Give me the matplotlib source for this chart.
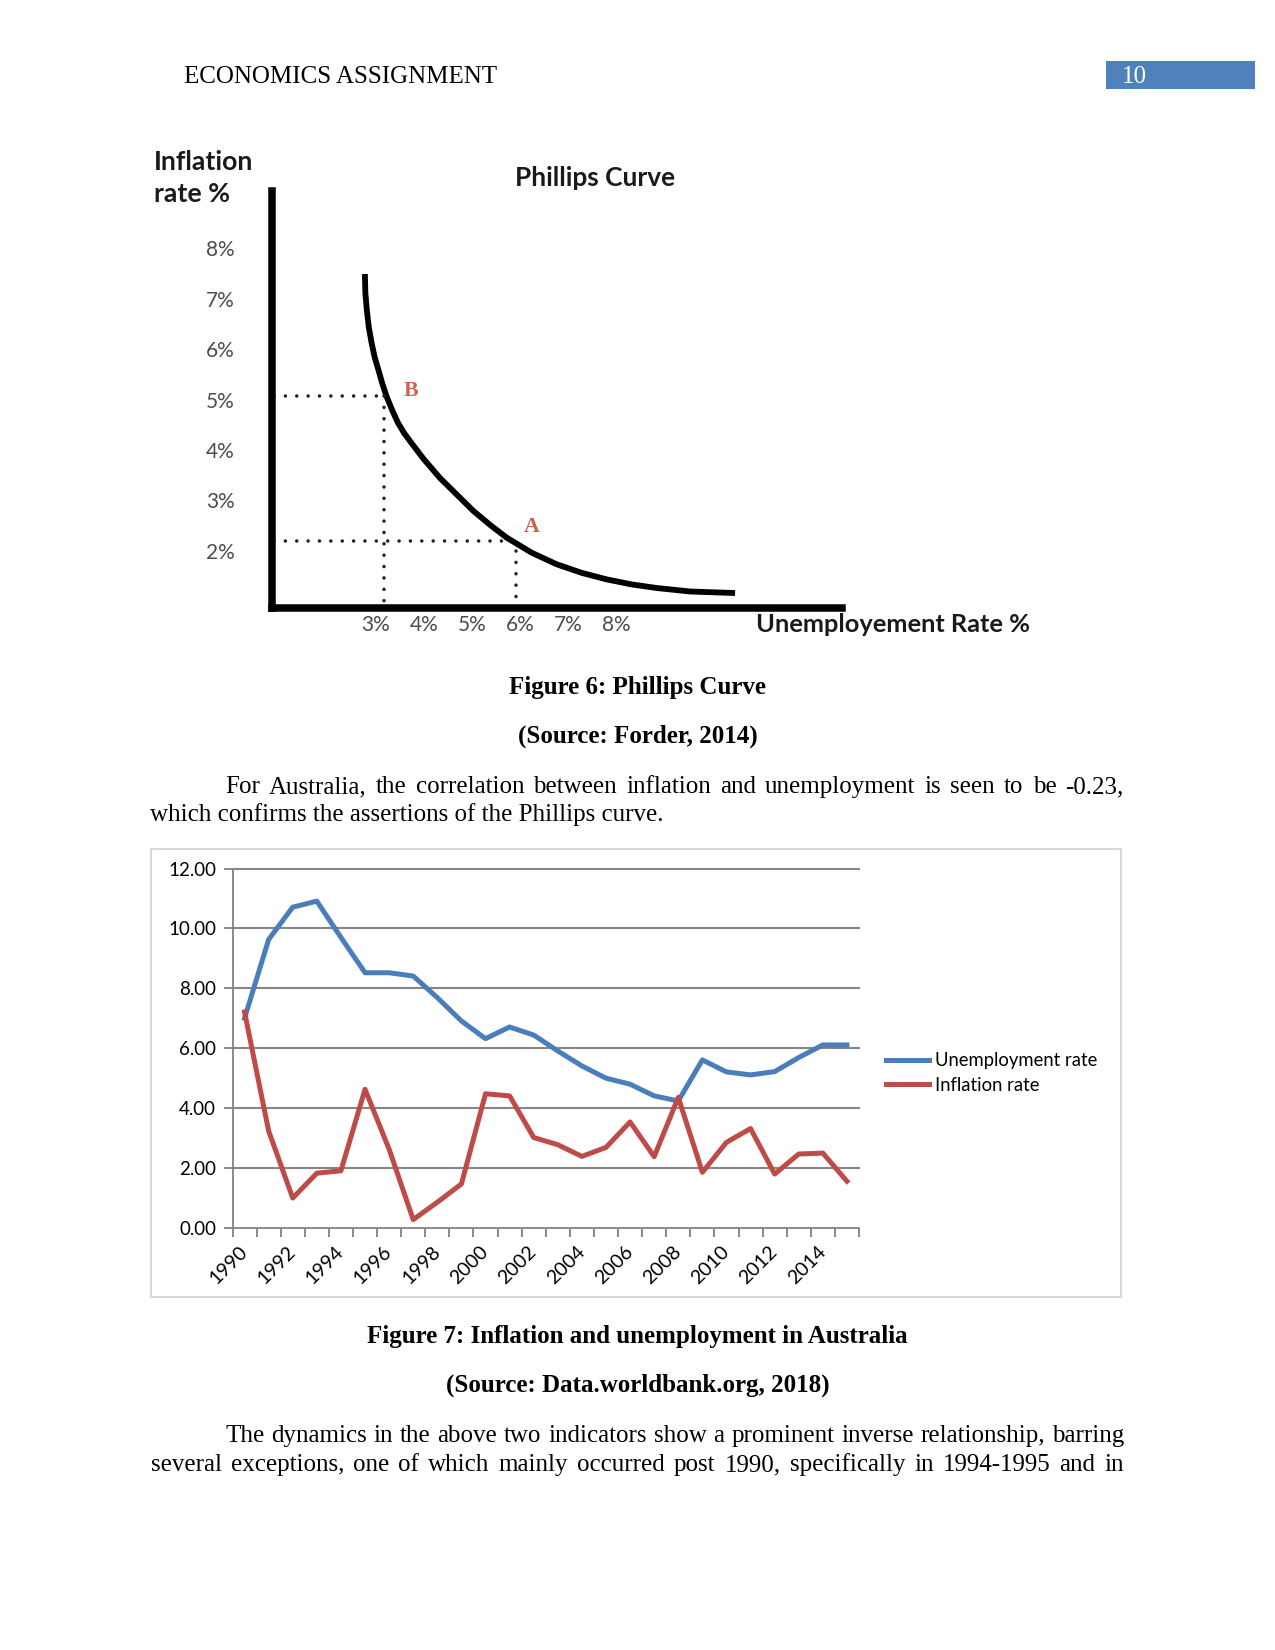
import matplotlib
matplotlib.use("Agg")
import matplotlib.pyplot as plt
from matplotlib.patches import Rectangle
import numpy as np

W, H = 1275, 1650
DPI = 150

# --- Phillips curve (figure 6) ---
curve_unemp = [2.78, 2.79, 2.82, 2.86, 2.92, 2.98, 3.06, 3.14, 3.23, 3.35, 3.47, 3.59, 3.72,
               3.99, 4.34, 4.69, 5.03, 5.38, 5.72, 6.24, 6.76, 7.28, 7.80, 8.32, 8.83, 9.53,
               10.46]
curve_infl = [7.49, 7.11, 6.78, 6.44, 6.12, 5.85, 5.59, 5.32, 5.06, 4.78, 4.53, 4.34, 4.17,
              3.83, 3.44, 3.11, 2.79, 2.51, 2.26, 1.96, 1.73, 1.56, 1.43, 1.33, 1.26, 1.19,
              1.16]
point_b = (3.18, 5.07)
point_a = (5.91, 2.20)
pc_yticks = [8, 7, 6, 5, 4, 3, 2]
pc_xticks = [3, 4, 5, 6, 7, 8]

# --- Australia inflation / unemployment (figure 7) ---
years = list(range(1990, 2016))
unemployment = [7.0, 9.63, 10.71, 10.91, 9.7, 8.52, 8.52, 8.41, 7.69, 6.91, 6.32, 6.71, 6.44,
                5.91, 5.41, 5.0, 4.8, 4.41, 4.24, 5.61, 5.21, 5.11, 5.22, 5.69, 6.11, 6.11]
inflation = [7.21, 3.24, 1.0, 1.83, 1.91, 4.63, 2.63, 0.28, 0.86, 1.47, 4.48, 4.41, 3.02,
             2.78, 2.39, 2.69, 3.54, 2.38, 4.36, 1.86, 2.86, 3.32, 1.80, 2.47, 2.5, 1.56]
y_ticks = [0, 2, 4, 6, 8, 10, 12]

BLUE = "#4A7EBB"
RED = "#BE4B48"
SERIF = "Liberation Serif"
SANS = "Lato"

fig = plt.figure(figsize=(W / DPI, H / DPI), dpi=DPI)
fig.patch.set_facecolor("white")


def fx(x):
    return x / W


def fy(y):
    return 1 - y / H


def px_axes(x0, y0, x1, y1):
    return fig.add_axes([fx(x0), fy(y1), (x1 - x0) / W, (y1 - y0) / H])


def put(x, y, s, **kw):
    kw.setdefault("family", SERIF)
    kw.setdefault("fontsize", 12)
    return fig.text(fx(x), fy(y), s, **kw)


renderer = fig.canvas.get_renderer()


def justified(line, x0, x1, y, **kw):
    words = line.split()
    texts = [put(0, y, w, va="baseline", ha="left", **kw) for w in words]
    widths = [t.get_window_extent(renderer).width for t in texts]
    gap = (x1 - x0 - sum(widths)) / (len(words) - 1)
    x = x0
    for t, w in zip(texts, widths):
        t.set_x(fx(x))
        x += w + gap


# header
put(184, 83, "ECONOMICS ASSIGNMENT", va="baseline")
fig.add_artist(Rectangle((fx(1106), fy(88.5)), (1255 - 1106) / W, 27.5 / H,
                         transform=fig.transFigure, facecolor="#4F81BD", edgecolor="none"))
put(1122, 83, "10", va="baseline", color="white")

# ---------------- Phillips curve ----------------
ax1 = px_axes(272, 191, 841.6, 608)
ax1.set_xlim(0.853, 12.67)
ax1.set_ylim(0.863, 9.137)
for s in ["top", "right"]:
    ax1.spines[s].set_visible(False)
for s in ["left", "bottom"]:
    ax1.spines[s].set_linewidth(3.6)
    ax1.spines[s].set_color("black")
ax1.plot(curve_unemp, curve_infl, color="black", lw=2.8, solid_capstyle="butt",
         solid_joinstyle="round")

dot = dict(color="#222222", lw=1.7, linestyle=(0, (0.01, 3.2)), dash_capstyle="round")
ax1.plot([0.9, point_b[0]], [point_b[1], point_b[1]], **dot)
ax1.plot([point_b[0], point_b[0]], [point_b[1], 1.0], **dot)
ax1.plot([0.9, point_a[0] - 0.2], [point_a[1], point_a[1]], **dot)
ax1.plot([point_a[0], point_a[0]], [point_a[1] - 0.2, 1.0], **dot)
ax1.text(point_b[0] + 0.55, point_b[1] + 0.1, "B", color="#D0604F", family=SERIF,
         fontweight="bold", fontsize=10.5, ha="center", va="center")
ax1.text(point_a[0] + 0.33, point_a[1] + 0.27, "A", color="#D0604F", family=SERIF,
         fontweight="bold", fontsize=10.5, ha="center", va="center")

ax1.set_yticks(pc_yticks)
ax1.set_yticklabels([f"{v}%" for v in pc_yticks])
ax1.set_xticks(pc_xticks)
ax1.set_xticklabels([f"{v}%" for v in pc_xticks])
ax1.tick_params(axis="y", length=0, pad=18, labelsize=10, labelcolor="#4d4d4d")
ax1.tick_params(axis="x", length=0, pad=3.2, labelsize=10, labelcolor="#4d4d4d")
for lab in ax1.get_xticklabels() + ax1.get_yticklabels():
    lab.set_family(SANS)

put(154, 162, "Inflation", family=SANS, fontweight="bold", fontsize=12.8, va="center",
    color="#1a1a1a")
put(154, 194, "rate %", family=SANS, fontweight="bold", fontsize=12.8, va="center",
    color="#1a1a1a")
put(595, 178, "Phillips Curve", family=SANS, fontweight="bold", fontsize=12.6, ha="center",
    va="center", color="#1a1a1a")
put(756, 625, "Unemployement Rate %", family=SANS, fontweight="bold", fontsize=12.2,
    va="center", color="#1a1a1a")

put(637.5, 694, "Figure 6: Phillips Curve", ha="center", va="baseline", fontweight="bold")
put(637.5, 743, "(Source: Forder, 2014)", ha="center", va="baseline", fontweight="bold")
justified("For Australia, the correlation between inflation and unemployment is seen to be -0.23,",
          225, 1124, 793)
put(150.5, 821, "which confirms the assertions of the Phillips curve.", va="baseline")

# ---------------- Excel line chart ----------------
fig.add_artist(Rectangle((fx(150.5), fy(1297)), (1121 - 150.5) / W, (1297 - 849) / H,
                         transform=fig.transFigure, facecolor="none",
                         edgecolor="#d9d9d9", lw=1.0))

ax2 = px_axes(232.5, 868.5, 859, 1228)
x = np.arange(len(years))
ax2.set_xlim(-0.5, len(years) - 0.5)
ax2.set_ylim(0, 12)
for s in ["top", "right"]:
    ax2.spines[s].set_visible(False)
for s in ["left", "bottom"]:
    ax2.spines[s].set_color("#868686")
    ax2.spines[s].set_linewidth(0.9)
for v in y_ticks[1:]:
    ax2.axhline(v, color="#868686", lw=1.0, clip_on=False, zorder=1)

ax2.plot(x, unemployment, color=BLUE, lw=2.4, label="Unemployment rate", zorder=3)
ax2.plot(x, inflation, color=RED, lw=2.4, label="Inflation rate", zorder=3)

ax2.set_yticks(y_ticks)
ax2.set_yticklabels([f"{v:.2f}" for v in y_ticks])
ax2.tick_params(axis="y", length=4.3, width=0.9, color="#868686", pad=3.5, labelsize=9)
ax2.set_xticks(np.arange(-0.5, len(years), 1))
ax2.set_xticklabels([])
ax2.tick_params(axis="x", which="major", length=4.3, width=0.9, color="#868686")
ax2.set_xticks(x[::2], minor=True)
ax2.set_xticklabels([str(y) for y in years[::2]], minor=True, rotation=45, ha="right",
                    va="center", rotation_mode="anchor")
ax2.tick_params(axis="x", which="minor", length=0, pad=10, labelsize=9.4)
for lab in ax2.get_yticklabels() + ax2.get_xticklabels(minor=True):
    lab.set_family(SANS)

leg = ax2.legend(loc="center left", bbox_to_anchor=(fx(886), fy(1073)),
                 bbox_transform=fig.transFigure, frameon=False, borderpad=0,
                 borderaxespad=0, handlelength=2.3, handletextpad=0.35,
                 labelspacing=0.4, prop={"family": SANS, "size": 8.9})
for ln in leg.get_lines():
    ln.set_linewidth(2.4)

put(637.5, 1343, "Figure 7: Inflation and unemployment in Australia", ha="center",
    va="baseline", fontweight="bold")
put(637.5, 1392, "(Source: Data.worldbank.org, 2018)", ha="center", va="baseline",
    fontweight="bold")
justified("The dynamics in the above two indicators show a prominent inverse relationship, barring",
          225, 1124, 1442)
justified("several exceptions, one of which mainly occurred post 1990, specifically in 1994-1995 and in",
          150.5, 1124, 1471)

fig.savefig("out.png", dpi=DPI, facecolor="white")
